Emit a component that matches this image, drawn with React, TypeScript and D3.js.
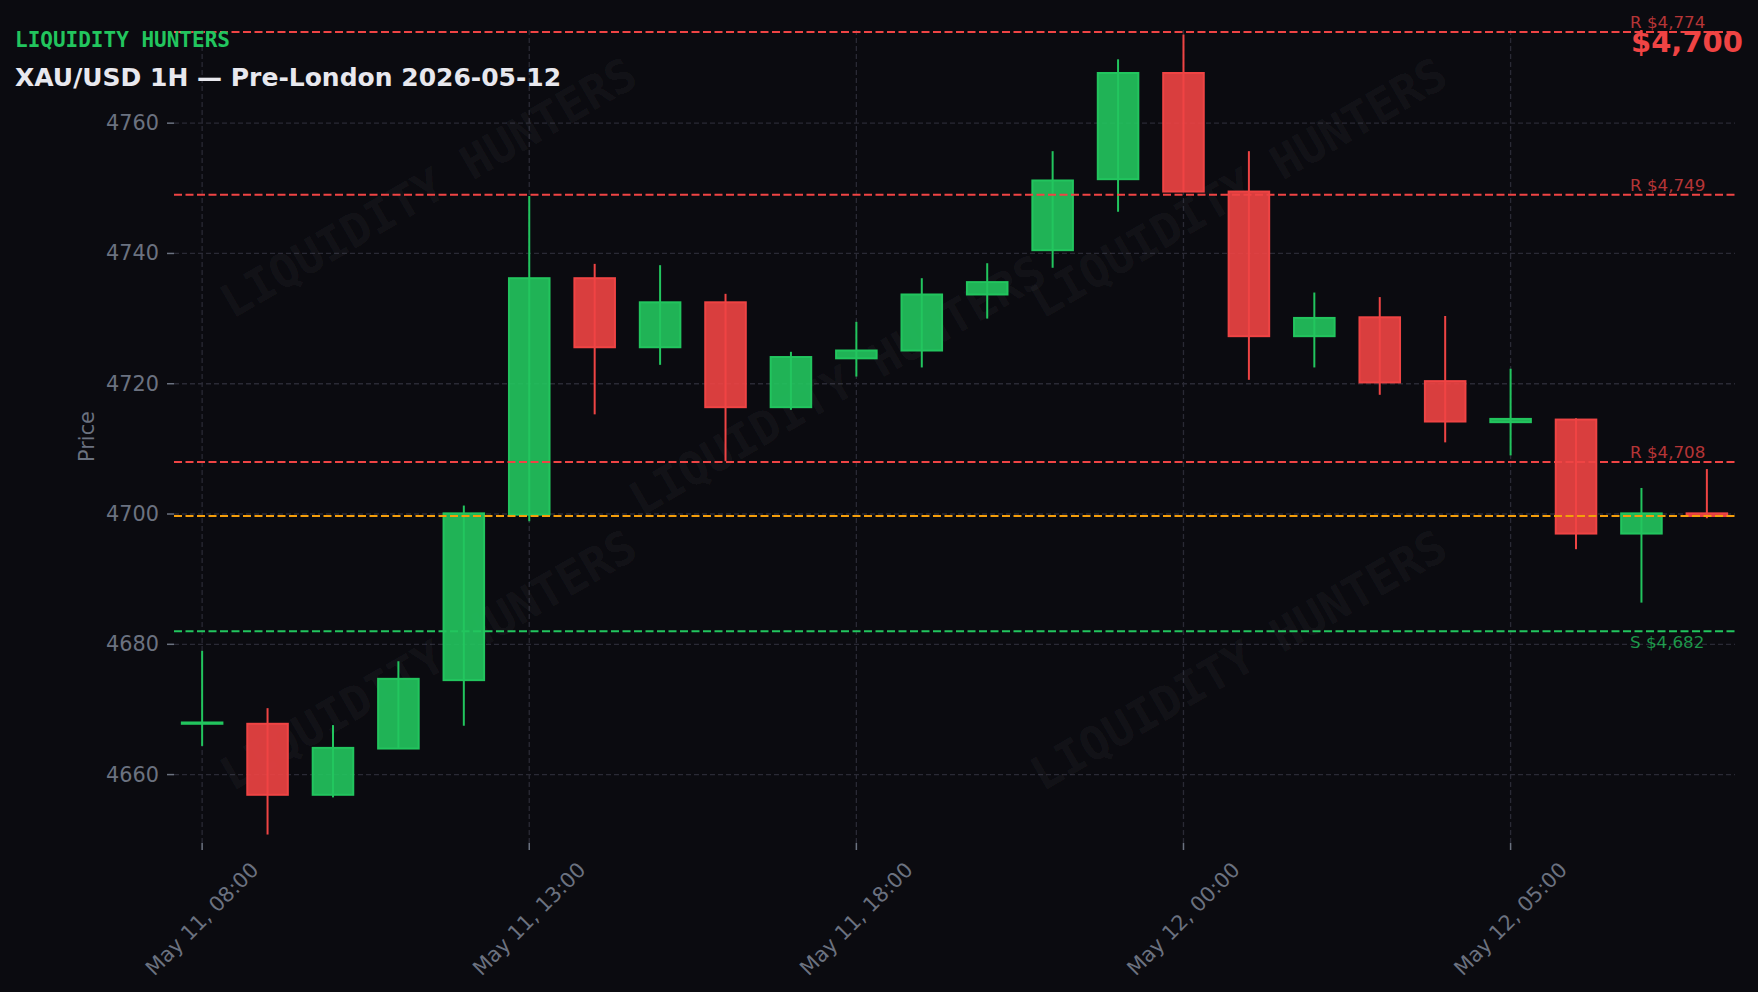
import * as d3 from 'd3'

// XAU/USD 1H candles
const times = [
  'May 11, 08:00', 'May 11, 09:00', 'May 11, 10:00', 'May 11, 11:00', 'May 11, 12:00',
  'May 11, 13:00', 'May 11, 14:00', 'May 11, 15:00', 'May 11, 16:00', 'May 11, 17:00',
  'May 11, 18:00', 'May 11, 19:00', 'May 11, 20:00', 'May 11, 21:00', 'May 11, 22:00',
  'May 12, 00:00', 'May 12, 01:00', 'May 12, 02:00', 'May 12, 03:00', 'May 12, 04:00',
  'May 12, 05:00', 'May 12, 06:00', 'May 12, 07:00', 'May 12, 08:00'
]
const opens = [4667.8, 4667.8, 4656.9, 4664.0, 4674.5, 4699.9, 4736.2, 4725.6, 4732.5, 4716.4, 4723.9, 4725.1, 4733.7, 4740.5, 4751.4, 4767.7, 4749.5, 4727.3, 4730.2, 4720.4, 4714.1, 4714.5, 4697.0, 4700.1]
const highs = [4679.0, 4670.2, 4667.6, 4677.4, 4701.3, 4748.8, 4738.4, 4738.2, 4733.8, 4724.9, 4729.5, 4736.2, 4738.5, 4755.7, 4769.8, 4773.6, 4755.7, 4734.0, 4733.3, 4730.4, 4722.3, 4714.7, 4704.0, 4706.9]
const lows = [4664.4, 4650.8, 4656.5, 4664.0, 4667.5, 4698.9, 4715.3, 4722.9, 4708.1, 4716.0, 4721.1, 4722.5, 4730.0, 4737.8, 4746.4, 4749.5, 4720.6, 4722.5, 4718.3, 4711.0, 4709.0, 4694.6, 4686.4, 4699.35]
const closes = [4668.0, 4656.9, 4664.1, 4674.7, 4700.1, 4736.2, 4725.6, 4732.5, 4716.4, 4724.1, 4725.1, 4733.7, 4735.6, 4751.2, 4767.7, 4749.5, 4727.3, 4730.1, 4720.2, 4714.2, 4714.6, 4697.0, 4700.1, 4699.7]

const resistances = [4774, 4749, 4708]
const supports = [4682]
const yTicks = [4660, 4680, 4700, 4720, 4740, 4760]
const xTickEvery = 5

const W = 1758
const H = 992
const BG = '#0b0b10'
const GREEN = '#22c55e'
const RED = '#ef4444'
const ORANGE = '#f59e0b'
const GRID = '#2a2a35'
const TICK = '#6b7280'

const plot = { left: 174, right: 1735, top: 30, bottom: 843 }

export default function App() {
  const x = d3.scaleLinear().domain([-0.43, times.length - 1 + 0.43]).range([plot.left, plot.right])
  const y = d3.scaleLinear().domain([4649.5, 4774.3]).range([plot.bottom, plot.top])
  const step = x(1) - x(0)
  const bodyW = step * 0.62
  const last = closes[closes.length - 1]
  const fmt = d3.format(',.0f')
  const xTickIdx = d3.range(0, times.length, xTickEvery)

  // faint watermark grid, as fractions of the plot box
  const marks = [
    [0.163, 0.194], [0.682, 0.194], [0.425, 0.437], [0.163, 0.775], [0.682, 0.775]
  ]
  const pw = plot.right - plot.left
  const ph = plot.bottom - plot.top

  return (
    <svg width={W} height={H} style={{ position: 'absolute', left: 0, top: 0, background: BG }}>
      <rect width={W} height={H} fill={BG} />
      <defs>
        <clipPath id="plotClip">
          <rect x={plot.left} y={plot.top} width={pw} height={ph} />
        </clipPath>
      </defs>

      {/* grid */}
      {yTicks.map(t => (
        <line key={'gy' + t} x1={plot.left} x2={plot.right} y1={y(t)} y2={y(t)}
          stroke={GRID} strokeWidth={1.3} strokeDasharray="5,3" />
      ))}
      {xTickIdx.map(i => (
        <line key={'gx' + i} x1={x(i)} x2={x(i)} y1={plot.top} y2={plot.bottom}
          stroke={GRID} strokeWidth={1.3} strokeDasharray="5,3" />
      ))}

      {/* watermark */}
      <g clipPath="url(#plotClip)">
        {marks.map(([fx, fy], k) => {
          const cx = plot.left + fx * pw
          const cy = plot.top + fy * ph
          return (
            <text key={'wm' + k} x={cx} y={cy} transform={`rotate(-30 ${cx} ${cy})`}
              textAnchor="middle" dominantBaseline="central"
              fontFamily="DejaVu Sans Mono" fontWeight="bold" fontSize={46}
              fill="#ffffff" fillOpacity={0.055}>
              LIQUIDITY HUNTERS
            </text>
          )
        })}
      </g>

      {/* candles */}
      {times.map((_, i) => {
        const up = closes[i] >= opens[i]
        const c = up ? GREEN : RED
        const top = y(Math.max(opens[i], closes[i]))
        const bot = y(Math.min(opens[i], closes[i]))
        return (
          <g key={'c' + i}>
            <line x1={x(i)} x2={x(i)} y1={y(highs[i])} y2={y(lows[i])} stroke={c} strokeWidth={2} />
            <rect x={x(i) - bodyW / 2} y={top} width={bodyW} height={Math.max(bot - top, 0.8)}
              fill={c} fillOpacity={0.9} stroke={c} strokeWidth={2} />
          </g>
        )
      })}

      {/* levels */}
      {resistances.map(r => (
        <g key={'r' + r}>
          <line x1={plot.left} x2={plot.right} y1={y(r)} y2={y(r)} stroke={RED} strokeWidth={2} strokeDasharray="8,3.5" />
          <text x={1630} y={y(r) - 4} fontFamily="DejaVu Sans" fontSize={16.7} fill={RED} fillOpacity={0.75}>
            R ${fmt(r)}
          </text>
        </g>
      ))}
      {supports.map(s => (
        <g key={'s' + s}>
          <line x1={plot.left} x2={plot.right} y1={y(s)} y2={y(s)} stroke={GREEN} strokeWidth={2} strokeDasharray="8,3.5" />
          <text x={1630} y={y(s) + 17} fontFamily="DejaVu Sans" fontSize={16.7} fill={GREEN} fillOpacity={0.75}>
            S ${fmt(s)}
          </text>
        </g>
      ))}
      <line x1={plot.left} x2={plot.right} y1={y(last)} y2={y(last)} stroke={ORANGE} strokeWidth={2} strokeDasharray="8,3.5" />

      {/* y axis */}
      {yTicks.map(t => (
        <g key={'ty' + t}>
          <line x1={plot.left - 7} x2={plot.left} y1={y(t)} y2={y(t)} stroke={TICK} strokeWidth={1.5} />
          <text x={plot.left - 15} y={y(t)} textAnchor="end" dominantBaseline="central"
            fontFamily="DejaVu Sans" fontSize={20.8} fill={TICK}>{t}</text>
        </g>
      ))}
      <text x={87} y={(plot.top + plot.bottom) / 2} transform={`rotate(-90 87 ${(plot.top + plot.bottom) / 2})`}
        textAnchor="middle" dominantBaseline="central" fontFamily="DejaVu Sans" fontSize={20.8} fill={TICK}>
        Price
      </text>

      {/* x axis */}
      {xTickIdx.map(i => {
        const cx = x(i)
        const cy = 919
        return (
          <g key={'tx' + i}>
            <line x1={cx} x2={cx} y1={plot.bottom} y2={plot.bottom + 7} stroke={TICK} strokeWidth={1.5} />
            <text x={cx} y={cy} transform={`rotate(-45 ${cx} ${cy})`} textAnchor="middle" dominantBaseline="central"
              fontFamily="DejaVu Sans" fontSize={20.8} fill={TICK}>
              {times[i]}
            </text>
          </g>
        )
      })}

      {/* header */}
      <text x={15} y={47} fontFamily="DejaVu Sans Mono" fontWeight="bold" fontSize={21} fill={GREEN}>
        LIQUIDITY HUNTERS
      </text>
      <text x={15} y={86} fontFamily="DejaVu Sans" fontWeight="bold" fontSize={25} fill="#e8e8ee">
        XAU/USD 1H — Pre-London 2026-05-12
      </text>
      <text x={1631} y={52} fontFamily="DejaVu Sans" fontWeight="bold" fontSize={29} fill={RED}>
        ${fmt(last)}
      </text>
    </svg>
  )
}
